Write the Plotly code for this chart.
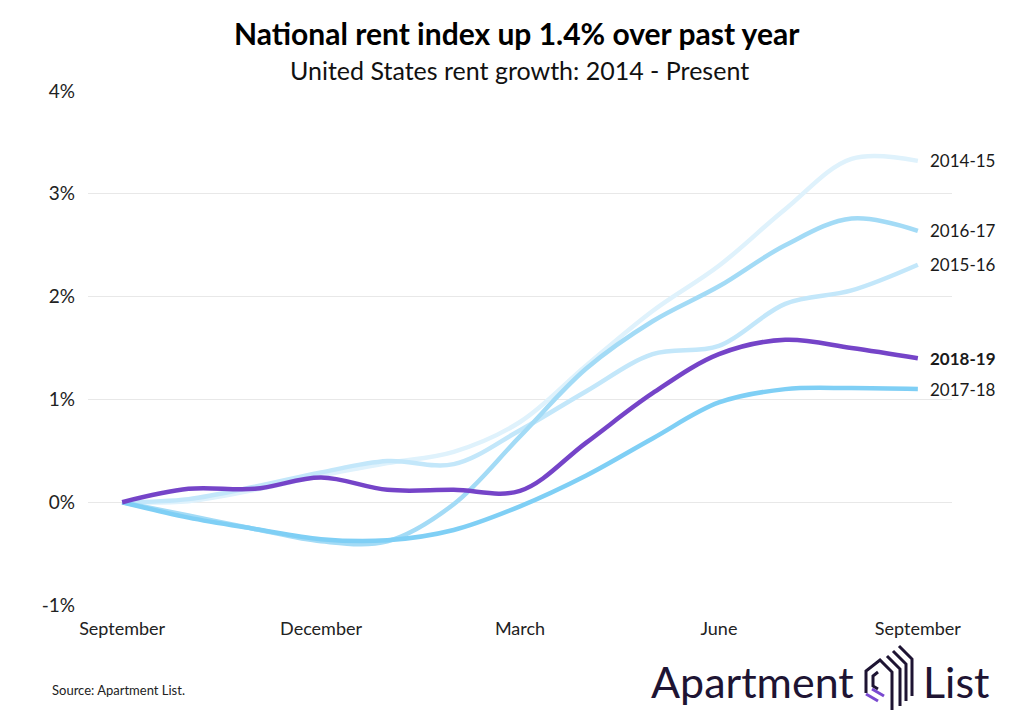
import plotly.graph_objects as go

months = ["September", "October", "November", "December", "January", "February",
          "March", "April", "May", "June", "July", "August", "September"]
x_idx = list(range(len(months)))

series_names = ["2014-15", "2015-16", "2016-17", "2017-18", "2018-19"]
s_2014_15 = [0, 0.01, 0.12, 0.26, 0.38, 0.49, 0.78, 1.33, 1.86, 2.30, 2.85, 3.34, 3.32]
s_2015_16 = [0, 0.03, 0.15, 0.29, 0.40, 0.37, 0.70, 1.08, 1.44, 1.52, 1.93, 2.06, 2.31]
s_2016_17 = [0, -0.13, -0.26, -0.38, -0.38, -0.02, 0.64, 1.30, 1.76, 2.10, 2.50, 2.76, 2.64]
s_2017_18 = [0, -0.15, -0.26, -0.36, -0.37, -0.27, -0.04, 0.26, 0.62, 0.97, 1.10, 1.11, 1.10]
s_2018_19 = [0, 0.13, 0.13, 0.24, 0.12, 0.12, 0.11, 0.58, 1.06, 1.44, 1.58, 1.50, 1.40]
series_values = [s_2014_15, s_2015_16, s_2016_17, s_2017_18, s_2018_19]
series_colors = ["#dff2fc", "#c3e7fa", "#a3dbf6", "#7fcff5", "#7544c8"]

x_tickvals = [0, 3, 6, 9, 12]
x_ticktext = ["September", "December", "March", "June", "September"]
y_tickvals = [-1, 0, 1, 2, 3, 4]
y_ticktext = ["-1%", "0%", "1%", "2%", "3%", "4%"]

FONT = "Lato"
W, H = 1024, 720
L, R, T, B = 88, 72, 91, 115


def px(xp):
    return (xp - L) / (W - L - R)


def py(yp):
    return (H - B - yp) / (H - B - T)


fig = go.Figure()
for name, vals, col in zip(series_names, series_values, series_colors):
    fig.add_trace(go.Scatter(
        x=x_idx, y=vals, mode="lines", name=name,
        line=dict(color=col, width=4.5, shape="spline", smoothing=1.0),
        hoverinfo="skip",
    ))
    fig.add_annotation(
        x=x_idx[-1], y=vals[-1], xref="x", yref="y",
        text=("<b>%s</b>" % name) if name == "2018-19" else name,
        showarrow=False, xanchor="left", yanchor="middle", xshift=10,
        font=dict(family=FONT, size=17, color="#1a1a1a"),
    )

# Title & subtitle
fig.add_annotation(x=px(517), y=py(33), xref="paper", yref="paper",
                   text="<b>National rent index up 1.4% over past year</b>",
                   showarrow=False, xanchor="center", yanchor="middle",
                   font=dict(family=FONT, size=30, color="#000000"))
fig.add_annotation(x=px(519), y=py(70), xref="paper", yref="paper",
                   text="United States rent growth: 2014 - Present",
                   showarrow=False, xanchor="center", yanchor="middle",
                   font=dict(family=FONT, size=25, color="#111111"))

# Source
fig.add_annotation(x=px(50), y=py(690), xref="paper", yref="paper",
                   text="Source: Apartment List.", showarrow=False,
                   xanchor="left", yanchor="middle",
                   font=dict(family=FONT, size=13, color="#222222"))

# Logo text
LOGO = "#1e1433"
fig.add_annotation(x=px(649), y=py(681), xref="paper", yref="paper",
                   text="Apartment", showarrow=False, xanchor="left", yanchor="middle",
                   font=dict(family=FONT, size=43, color=LOGO))
fig.add_annotation(x=px(921), y=py(681), xref="paper", yref="paper",
                   text="List", showarrow=False, xanchor="left", yanchor="middle",
                   font=dict(family=FONT, size=43, color=LOGO))


def path(points):
    return "M " + " L ".join("%f,%f" % (px(a), py(b)) for a, b in points)


icon_paths = [
    [(866, 693), (866, 671), (880, 660), (892, 672), (892, 710)],
    [(878, 689), (873, 686), (873, 676), (878, 672)],
    [(887, 656), (900, 669), (900, 706)],
    [(893, 651), (906, 664), (906, 701)],
    [(899, 646), (912, 659), (912, 696)],
]
for pts in icon_paths:
    fig.add_shape(type="path", path=path(pts), xref="paper", yref="paper",
                  line=dict(color=LOGO, width=3))
for pts in [[(866, 694), (878, 701)], [(872, 689), (884, 696)]]:
    fig.add_shape(type="path", path=path(pts), xref="paper", yref="paper",
                  line=dict(color="#7a4ad0", width=3))

fig.update_layout(
    width=W, height=H,
    margin=dict(l=L, r=R, t=T, b=B),
    paper_bgcolor="white", plot_bgcolor="white",
    showlegend=False,
    font=dict(family=FONT, color="#222222"),
    xaxis=dict(range=[-0.515, 12.515], tickvals=x_tickvals, ticktext=x_ticktext,
               showgrid=False, zeroline=False, showline=False,
               tickfont=dict(family=FONT, size=18, color="#222222"),
               ticklabelstandoff=11, fixedrange=True),
    yaxis=dict(range=[-1, 4], tickvals=y_tickvals, ticktext=y_ticktext,
               showgrid=True, gridcolor="#e8e8e8", gridwidth=1, zeroline=False,
               showline=False, tickfont=dict(family=FONT, size=19, color="#222222"),
               ticklabelstandoff=12, fixedrange=True),
)

fig.write_html(
    "out.html",
    config={"displayModeBar": False},
    post_script="document.body.style.margin='0';document.body.style.overflow='hidden';",
)
